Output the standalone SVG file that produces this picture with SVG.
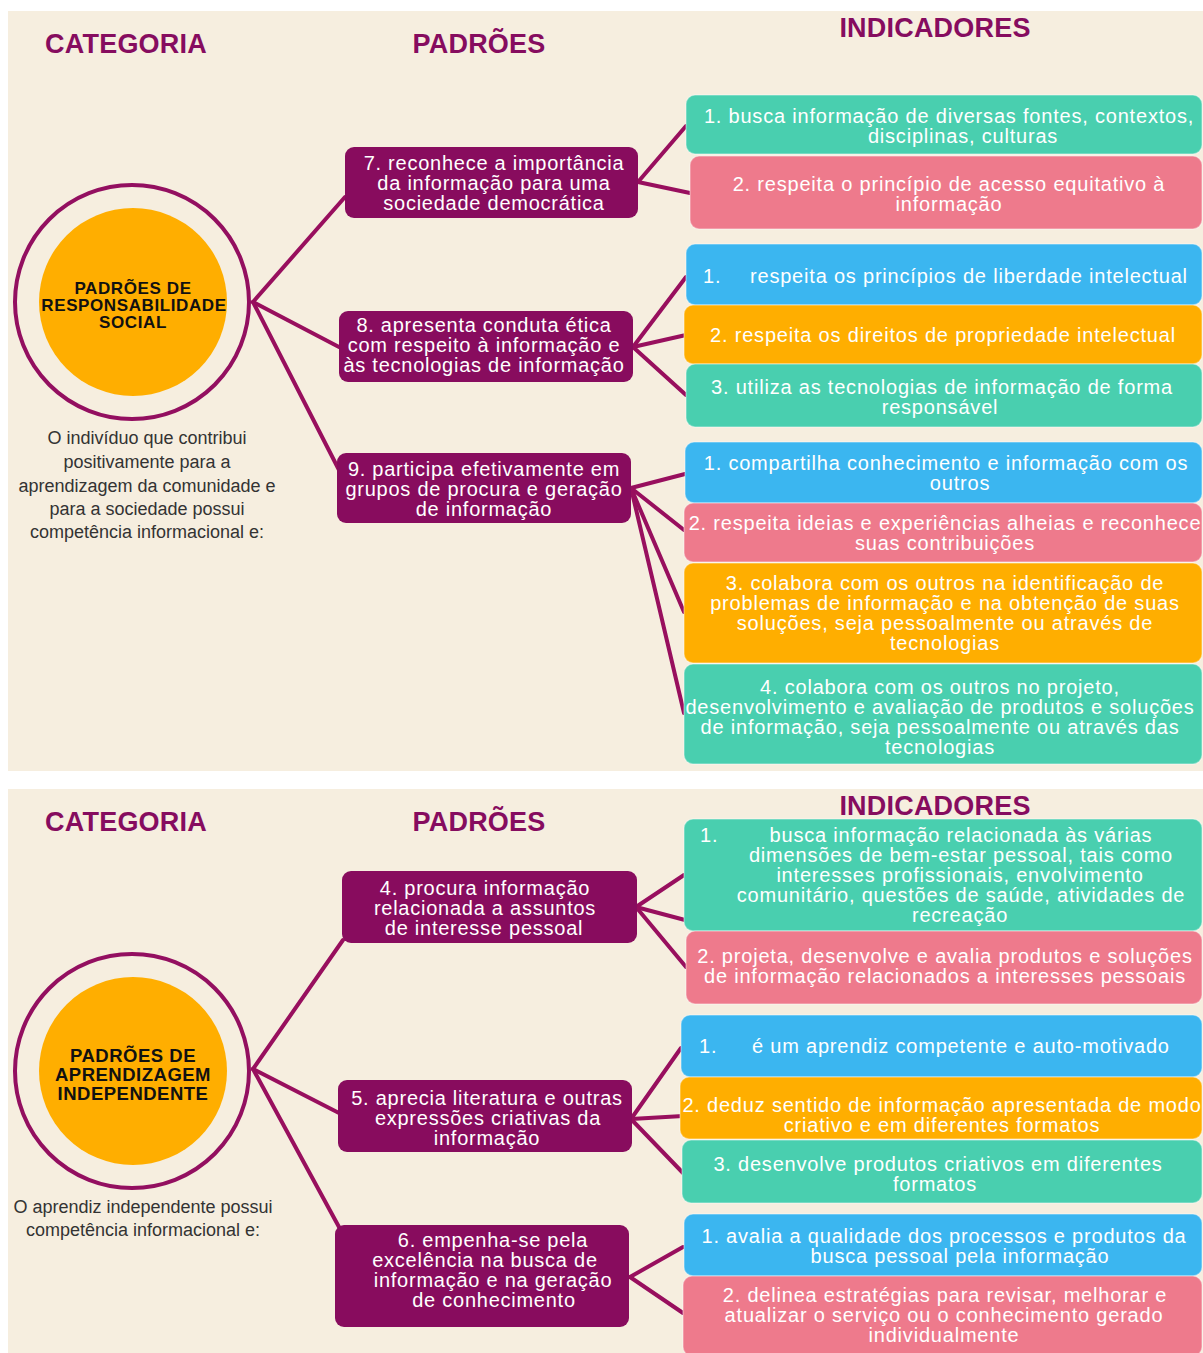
<svg xmlns="http://www.w3.org/2000/svg" width="1203" height="1353" viewBox="0 0 1203 1353">
<style>
.panel{fill:#F6EEDF}
.hdr{font-family:"Liberation Sans",Arial,sans-serif;font-weight:bold;font-size:27px;letter-spacing:0.2px;fill:#860C5F;text-anchor:middle}
.ring{fill:none;stroke:#930F60;stroke-width:4}
.core{fill:#FFAE00}
.ctext{font-family:"Liberation Sans",Arial,sans-serif;font-weight:bold;fill:#111;text-anchor:middle}
.desc{font-family:"Liberation Sans",Arial,sans-serif;font-size:18px;fill:#333;text-anchor:middle}
.std{fill:#880C5E}
.stxt{font-family:"Liberation Sans",Arial,sans-serif;font-size:20px;letter-spacing:0.75px;fill:#fff;text-anchor:middle}
.itxt{font-family:"Liberation Sans",Arial,sans-serif;font-size:20px;letter-spacing:0.8px;fill:#fff;text-anchor:middle}
.itxs{font-family:"Liberation Sans",Arial,sans-serif;font-size:20px;letter-spacing:0.8px;fill:#fff}
.teal{fill:#49CFAF}
.pink{fill:#EE7A8C}
.blue{fill:#3BB6F0}
.orng{fill:#FFAE00}
.ind{stroke:#ffffff;stroke-opacity:0.35;stroke-width:1.5}
.conn line{stroke:#980F5E;stroke-width:4;stroke-linecap:round}
</style>
<rect width="1203" height="1353" fill="#ffffff"/>
<rect class="panel" x="8" y="11" width="1195" height="760"/>
<rect class="panel" x="8" y="789" width="1195" height="564"/>

<g id="headers">
<text class="hdr" x="126" y="53">CATEGORIA</text>
<text class="hdr" x="479" y="53">PADRÕES</text>
<text class="hdr" x="935" y="37">INDICADORES</text>
<text class="hdr" x="126" y="831">CATEGORIA</text>
<text class="hdr" x="479" y="831">PADRÕES</text>
<text class="hdr" x="935" y="815">INDICADORES</text>
</g>

<g id="connectors" class="conn">
<line x1="253" y1="302" x2="345" y2="197"/>
<line x1="253" y1="302" x2="339" y2="347"/>
<line x1="253" y1="302" x2="339" y2="470"/>
<line x1="638" y1="182" x2="686" y2="126"/>
<line x1="638" y1="182" x2="690" y2="193"/>
<line x1="633" y1="347" x2="686" y2="277"/>
<line x1="633" y1="347" x2="686" y2="335"/>
<line x1="633" y1="347" x2="686" y2="395"/>
<line x1="631" y1="488" x2="685" y2="474"/>
<line x1="631" y1="488" x2="684" y2="530"/>
<line x1="631" y1="488" x2="684" y2="612"/>
<line x1="631" y1="488" x2="684" y2="713"/>
<line x1="253" y1="1069" x2="343" y2="940"/>
<line x1="253" y1="1069" x2="339" y2="1113"/>
<line x1="253" y1="1069" x2="339" y2="1227"/>
<line x1="636" y1="907" x2="684" y2="875"/>
<line x1="636" y1="907" x2="685" y2="920"/>
<line x1="636" y1="907" x2="686" y2="967"/>
<line x1="631" y1="1119" x2="681" y2="1048"/>
<line x1="631" y1="1119" x2="683" y2="1116"/>
<line x1="631" y1="1119" x2="683" y2="1173"/>
<line x1="630" y1="1277" x2="683" y2="1247"/>
<line x1="630" y1="1277" x2="683" y2="1313"/>
</g>

<g id="cat-social">
<circle class="ring" cx="132" cy="302" r="117"/>
<circle class="core" cx="133" cy="302" r="94"/>
<text class="ctext" font-size="17" letter-spacing="0.6" x="133" y="294">PADRÕES DE</text>
<text class="ctext" font-size="17" letter-spacing="0.6" x="134" y="311">RESPONSABILIDADE</text>
<text class="ctext" font-size="17" letter-spacing="0.6" x="133" y="328">SOCIAL</text>
<text class="desc" x="147" y="444">O indivíduo que contribui</text>
<text class="desc" x="147" y="468">positivamente para a</text>
<text class="desc" x="147" y="492">aprendizagem da comunidade e</text>
<text class="desc" x="147" y="515">para a sociedade possui</text>
<text class="desc" x="147" y="538">competência informacional e:</text>
</g>

<g id="std7">
<rect class="std" x="345" y="147" width="293" height="71" rx="9"/>
<text class="stxt" x="494" y="170">7. reconhece a importância</text>
<text class="stxt" x="494" y="190">da informação para uma</text>
<text class="stxt" x="494" y="210">sociedade democrática</text>
</g>
<g id="std8">
<rect class="std" x="339" y="311" width="294" height="71" rx="9"/>
<text class="stxt" x="484" y="332">8. apresenta conduta ética</text>
<text class="stxt" x="484" y="352">com respeito à informação e</text>
<text class="stxt" x="484" y="372">às tecnologias de informação</text>
</g>
<g id="std9">
<rect class="std" x="337" y="453" width="294" height="70" rx="9"/>
<text class="stxt" x="484" y="476">9. participa efetivamente em</text>
<text class="stxt" x="484" y="496">grupos de procura e geração</text>
<text class="stxt" x="484" y="516">de informação</text>
</g>

<g id="ind7-1">
<rect class="teal ind" x="686" y="95" width="516" height="59" rx="9"/>
<text class="itxt" x="949" y="123">1. busca informação de diversas fontes, contextos,</text>
<text class="itxt" x="963" y="143">disciplinas, culturas</text>
</g>
<g id="ind7-2">
<rect class="pink ind" x="690" y="156" width="512" height="73" rx="9"/>
<text class="itxt" x="949" y="191">2. respeita o princípio de acesso equitativo à</text>
<text class="itxt" x="949" y="211">informação</text>
</g>
<g id="ind8-1">
<rect class="blue ind" x="686" y="244" width="516" height="61" rx="9"/>
<text class="itxs" x="703" y="283">1.</text>
<text class="itxs" x="750" y="283">respeita os princípios de liberdade intelectual</text>
</g>
<g id="ind8-2">
<rect class="orng ind" x="684" y="305" width="518" height="59" rx="9"/>
<text class="itxt" x="943" y="342">2. respeita os direitos de propriedade intelectual</text>
</g>
<g id="ind8-3">
<rect class="teal ind" x="686" y="364" width="516" height="63" rx="9"/>
<text class="itxt" x="942" y="394">3. utiliza as tecnologias de informação de forma</text>
<text class="itxt" x="940" y="414">responsável</text>
</g>
<g id="ind9-1">
<rect class="blue ind" x="685" y="442" width="517" height="61" rx="9"/>
<text class="itxt" x="946" y="470">1. compartilha conhecimento e informação com os</text>
<text class="itxt" x="960" y="490">outros</text>
</g>
<g id="ind9-2">
<rect class="pink ind" x="684" y="503" width="518" height="59" rx="9"/>
<text class="itxt" x="945" y="530">2. respeita ideias e experiências alheias e reconhece</text>
<text class="itxt" x="945" y="550">suas contribuições</text>
</g>
<g id="ind9-3">
<rect class="orng ind" x="684" y="563" width="518" height="100" rx="9"/>
<text class="itxt" x="945" y="590">3. colabora com os outros na identificação de</text>
<text class="itxt" x="945" y="610">problemas de informação e na obtenção de suas</text>
<text class="itxt" x="945" y="630">soluções, seja pessoalmente ou através de</text>
<text class="itxt" x="945" y="650">tecnologias</text>
</g>
<g id="ind9-4">
<rect class="teal ind" x="684" y="664" width="518" height="100" rx="9"/>
<text class="itxt" x="940" y="694">4. colabora com os outros no projeto,</text>
<text class="itxt" x="940" y="714">desenvolvimento e avaliação de produtos e soluções</text>
<text class="itxt" x="940" y="734">de informação, seja pessoalmente ou através das</text>
<text class="itxt" x="940" y="754">tecnologias</text>
</g>

<g id="cat-independente">
<circle class="ring" cx="132" cy="1071" r="117"/>
<circle class="core" cx="133" cy="1071" r="94"/>
<text class="ctext" font-size="18.5" letter-spacing="0.5" x="133" y="1062">PADRÕES DE</text>
<text class="ctext" font-size="18.5" letter-spacing="0.5" x="133" y="1081">APRENDIZAGEM</text>
<text class="ctext" font-size="18.5" letter-spacing="0.5" x="133" y="1100">INDEPENDENTE</text>
<text class="desc" x="143" y="1213">O aprendiz independente possui</text>
<text class="desc" x="143" y="1236">competência informacional e:</text>
</g>

<g id="std4">
<rect class="std" x="342" y="871" width="295" height="72" rx="9"/>
<text class="stxt" x="485" y="895">4. procura informação</text>
<text class="stxt" x="485" y="915">relacionada a assuntos</text>
<text class="stxt" x="484" y="935">de interesse pessoal</text>
</g>
<g id="std5">
<rect class="std" x="338" y="1080" width="294" height="72" rx="9"/>
<text class="stxt" x="487" y="1105">5. aprecia literatura e outras</text>
<text class="stxt" x="488" y="1125">expressões criativas da</text>
<text class="stxt" x="487" y="1145">informação</text>
</g>
<g id="std6">
<rect class="std" x="335" y="1225" width="294" height="102" rx="9"/>
<text class="stxt" x="493" y="1247">6. empenha-se pela</text>
<text class="stxt" x="485" y="1267">excelência na busca de</text>
<text class="stxt" x="493" y="1287">informação e na geração</text>
<text class="stxt" x="494" y="1307">de conhecimento</text>
</g>

<g id="ind4-1">
<rect class="teal ind" x="684" y="819" width="518" height="112" rx="9"/>
<text class="itxs" x="700" y="842">1.</text>
<text class="itxt" x="961" y="842">busca informação relacionada às várias</text>
<text class="itxt" x="961" y="862">dimensões de bem-estar pessoal, tais como</text>
<text class="itxt" x="960" y="882">interesses profissionais, envolvimento</text>
<text class="itxt" x="961" y="902">comunitário, questões de saúde, atividades de</text>
<text class="itxt" x="960" y="922">recreação</text>
</g>
<g id="ind4-2">
<rect class="pink ind" x="686" y="931" width="516" height="73" rx="9"/>
<text class="itxt" x="945" y="963">2. projeta, desenvolve e avalia produtos e soluções</text>
<text class="itxt" x="945" y="983">de informação relacionados a interesses pessoais</text>
</g>
<g id="ind5-1">
<rect class="blue ind" x="681" y="1015" width="521" height="62" rx="9"/>
<text class="itxs" x="699" y="1053">1.</text>
<text class="itxs" x="752" y="1053">é um aprendiz competente e auto-motivado</text>
</g>
<g id="ind5-2">
<rect class="orng ind" x="680" y="1077" width="522" height="62" rx="9"/>
<text class="itxt" x="942" y="1112">2. deduz sentido de informação apresentada de modo</text>
<text class="itxt" x="942" y="1132">criativo e em diferentes formatos</text>
</g>
<g id="ind5-3">
<rect class="teal ind" x="682" y="1140" width="520" height="63" rx="9"/>
<text class="itxt" x="938" y="1171">3. desenvolve produtos criativos em diferentes</text>
<text class="itxt" x="935" y="1191">formatos</text>
</g>
<g id="ind6-1">
<rect class="blue ind" x="684" y="1214" width="518" height="62" rx="9"/>
<text class="itxt" x="944" y="1243">1. avalia a qualidade dos processos e produtos da</text>
<text class="itxt" x="960" y="1263">busca pessoal pela informação</text>
</g>
<g id="ind6-2">
<rect class="pink ind" x="683" y="1276" width="519" height="80" rx="9"/>
<text class="itxt" x="945" y="1302">2. delinea estratégias para revisar, melhorar e</text>
<text class="itxt" x="944" y="1322">atualizar o serviço ou o conhecimento gerado</text>
<text class="itxt" x="944" y="1342">individualmente</text>
</g>
</svg>
